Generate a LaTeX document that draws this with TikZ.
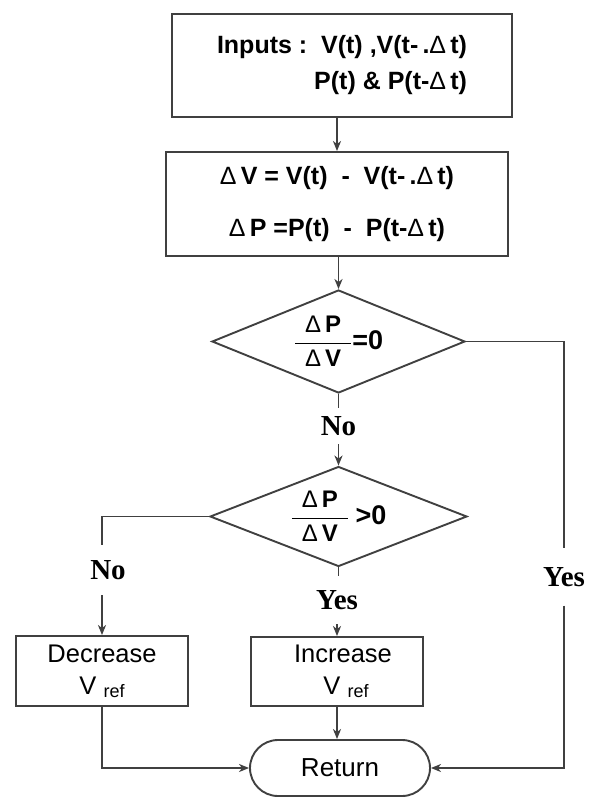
\documentclass[tikz,border=0pt]{standalone}
\usepackage{fontspec}
\setmainfont{Liberation Serif}
\newfontfamily\arial{Liberation Sans}
\usetikzlibrary{shapes.geometric,shapes.misc,arrows.meta}

% thin delta used inside bold formulas
\newcommand\dlt{{\mdseries Δ}}
% dP/dV ratio with a heavy fraction bar
\newcommand\ratio{${\displaystyle{\hbox to 56pt{\hss\dlt\,P\hss}\above1.8pt\hbox to 56pt{\hss\dlt\,V\hss}}}$}
% reference voltage label
\newcommand\vref{V\ \raisebox{-3pt}{\fontsize{18}{18}\selectfont ref}}

\begin{document}
\begin{tikzpicture}[x=1pt,y=-1pt,
  line/.style={draw=black!75, line width=1.9pt},
  arr/.style={line, -{Stealth[length=10pt,width=8pt,inset=3pt]}},
  procbox/.style={line, rectangle, inner sep=0pt, align=center,
    font=\arial\fontsize{25.5}{32}\selectfont},
  decision/.style={line, diamond, shape aspect=2.5, inner sep=0pt,
    font=\arial\bfseries\fontsize{24}{28}\selectfont},
  terminal/.style={line, rounded rectangle, inner sep=0pt,
    font=\arial\fontsize{26}{30}\selectfont},
  tag/.style={inner sep=0pt, font=\bfseries\fontsize{29}{29}\selectfont}
]
\useasboundingbox (0,0) rectangle (589,797);

% process boxes
\node[procbox, minimum width=340pt, minimum height=103pt, align=right,
  font=\arial\bfseries\fontsize{25}{36}\selectfont] (inputs) at (342,65.5)
  {Inputs :\ \ V(t) ,V(t-\,.\dlt\,t)\\P(t) \& P(t-\dlt\,t)};
\node[procbox, minimum width=342pt, minimum height=104pt,
  font=\arial\bfseries\fontsize{25}{52}\selectfont] (diff) at (337,204)
  {\dlt\,V = V(t)\ \ -\ \ V(t-\,.\dlt\,t)\\\dlt\,P =P(t)\ \ -\ \ P(t-\dlt\,t)};

% decisions
\node[decision, minimum width=253pt, minimum height=103pt] (zero) at (338.5,341.5)
  {\ratio{\fontsize{27}{27}\selectfont=0}};
\node[decision, minimum width=257pt, minimum height=100pt] (pos) at (338.5,516.5)
  {\ratio\ {\fontsize{27}{27}\selectfont>0}};

% actions
\node[procbox, minimum width=172pt, minimum height=70pt] (dec) at (102,671)
  {Decrease\\\vref};
\node[procbox, minimum width=172pt, minimum height=69pt] (inc) at (337,671.5)
  {\hspace*{12pt}Increase\\\hspace*{18pt}\vref};
\node[terminal, minimum width=180pt, minimum height=56pt] (ret) at (340,768)
  {Return};

% branch labels
\node[tag, minimum height=36pt] (no1) at (338.5,426) {No};
\node[tag, minimum height=50pt] (no2) at (108,570) {No};
\node[tag, minimum height=48pt] (yes1) at (337,600) {Yes};
\node[tag, minimum height=57pt] (yes2) at (564,577) {Yes};

% main flow
\draw[arr] (diff.north |- inputs.south) -- (diff.north);
\draw[arr] (zero.north |- diff.south) -- (zero.north);
\draw[line] (zero.south) -- (no1.north);
\draw[arr] (no1.south) -- (pos.north);

% dP/dV > 0 : yes
\draw[line] (pos.south) -- (pos.south |- yes1.north);
\draw[arr] (inc.north |- yes1.south) -- (inc.north);
\draw[arr] (inc.south) -- (inc.south |- ret.north);

% dP/dV > 0 : no
\draw[line] (pos.west) -| (dec.north |- no2.north);
\draw[arr] (dec.north |- no2.south) -- (dec.north);
\draw[arr] (dec.south) |- (ret.west);

% dP/dV = 0 : yes
\draw[line] (zero.east) -| (yes2.north);
\draw[arr] (yes2.south) |- (ret.east);
\end{tikzpicture}
\end{document}
